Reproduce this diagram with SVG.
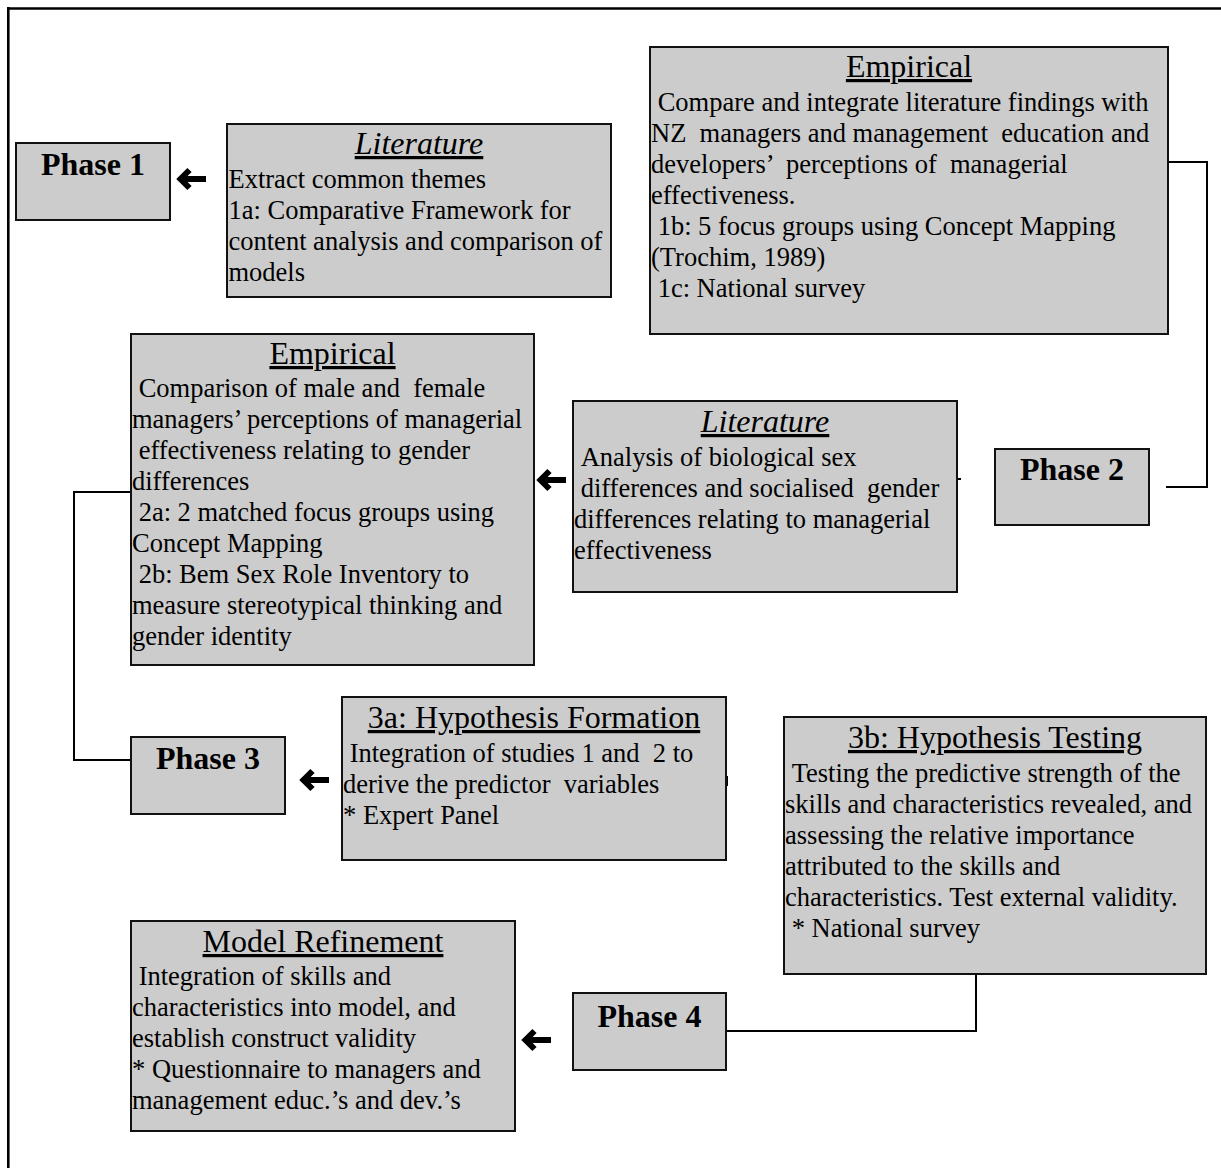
<svg xmlns="http://www.w3.org/2000/svg" width="1221" height="1168" viewBox="0 0 1221 1168">
<style>
.box{fill:#cccccc;stroke:#111;stroke-width:2}
.t{font-family:"Liberation Serif","Times New Roman",serif;font-size:26.5px;fill:#000;white-space:pre}
.ti{font-family:"Liberation Serif","Times New Roman",serif;font-size:32px;fill:#000;text-anchor:middle;text-decoration:underline}
.it{font-style:italic}
.ph{font-family:"Liberation Serif","Times New Roman",serif;font-size:32px;font-weight:bold;fill:#000;text-anchor:middle}
.ln{fill:none;stroke:#000;stroke-width:2}
.ar{fill:none;stroke:#000;stroke-width:6;stroke-linejoin:miter}
</style>
<defs>
<g id="arrow">
<path class="ar" d="M12.5,-9 L3.5,0 L12.5,9"/>
<path class="ar" d="M5,0 H29"/>
</g>
</defs>
<rect width="1221" height="1168" fill="#fff"/>
<path d="M7,8.5 H1221 M8.3,7 V1168" fill="none" stroke="#000" stroke-width="2.6"/>

<g id="connectors">
<path class="ln" d="M1168,162 H1207 V487 H1166"/>
<path class="ln" d="M131,492 H74 V760 H131"/>
<path class="ln" d="M976,974 V1031 H726"/>
<path class="ln" d="M957,479 H961" stroke-width="3"/>
<path class="ln" d="M727,776 V786"/>
<use href="#arrow" x="177" y="179"/>
<use href="#arrow" x="537" y="480"/>
<use href="#arrow" x="300" y="780"/>
<use href="#arrow" x="522" y="1040"/>
</g>

<g id="phase1">
<rect class="box" x="16" y="143" width="154" height="77"/>
<text class="ph" x="93" y="175">Phase 1</text>
</g>

<g id="literature1">
<rect class="box" x="227" y="124" width="384" height="173"/>
<text class="ti it" x="419" y="154">Literature</text>
<text class="t" x="228.5" y="188">Extract common themes</text>
<text class="t" x="228.5" y="219">1a: Comparative Framework for</text>
<text class="t" x="228.5" y="250">content analysis and comparison of</text>
<text class="t" x="228.5" y="281">models</text>
</g>

<g id="empirical1">
<rect class="box" x="650" y="47" width="518" height="287"/>
<text class="ti" x="909" y="77">Empirical</text>
<text class="t" x="651" y="111">&#160;Compare and integrate literature findings with</text>
<text class="t" x="651" y="142">NZ &#160;managers and management &#160;education and</text>
<text class="t" x="651" y="173">developers’ &#160;perceptions of &#160;managerial</text>
<text class="t" x="651" y="204">effectiveness.</text>
<text class="t" x="651" y="235">&#160;1b: 5 focus groups using Concept Mapping</text>
<text class="t" x="651" y="266">(Trochim, 1989)</text>
<text class="t" x="651" y="297">&#160;1c: National survey</text>
</g>

<g id="empirical2">
<rect class="box" x="131" y="334" width="403" height="331"/>
<text class="ti" x="332.5" y="364">Empirical</text>
<text class="t" x="132" y="397">&#160;Comparison of male and &#160;female</text>
<text class="t" x="132" y="428">managers’ perceptions of managerial</text>
<text class="t" x="132" y="459">&#160;effectiveness relating to gender</text>
<text class="t" x="132" y="490">differences</text>
<text class="t" x="132" y="521">&#160;2a: 2 matched focus groups using</text>
<text class="t" x="132" y="552">Concept Mapping</text>
<text class="t" x="132" y="583">&#160;2b: Bem Sex Role Inventory to</text>
<text class="t" x="132" y="614">measure stereotypical thinking and</text>
<text class="t" x="132" y="645">gender identity</text>
</g>

<g id="literature2">
<rect class="box" x="573" y="401" width="384" height="191"/>
<text class="ti it" x="765" y="432">Literature</text>
<text class="t" x="574" y="466">&#160;Analysis of biological sex</text>
<text class="t" x="574" y="497">&#160;differences and socialised &#160;gender</text>
<text class="t" x="574" y="528">differences relating to managerial</text>
<text class="t" x="574" y="559">effectiveness</text>
</g>

<g id="phase2">
<rect class="box" x="995" y="449" width="154" height="76"/>
<text class="ph" x="1072" y="480">Phase 2</text>
</g>

<g id="phase3">
<rect class="box" x="131" y="737" width="154" height="77"/>
<text class="ph" x="208" y="769">Phase 3</text>
</g>

<g id="hypothesis-formation">
<rect class="box" x="342" y="697" width="384" height="163"/>
<text class="ti" x="534" y="728">3a: Hypothesis Formation</text>
<text class="t" x="343" y="762">&#160;Integration of studies 1 and &#160;2 to</text>
<text class="t" x="343" y="793">derive the predictor &#160;variables</text>
<text class="t" x="343" y="824">* Expert Panel</text>
</g>

<g id="hypothesis-testing">
<rect class="box" x="784" y="717" width="422" height="257"/>
<text class="ti" x="995" y="748">3b: Hypothesis Testing</text>
<text class="t" x="785" y="782">&#160;Testing the predictive strength of the</text>
<text class="t" x="785" y="813">skills and characteristics revealed, and</text>
<text class="t" x="785" y="844">assessing the relative importance</text>
<text class="t" x="785" y="875">attributed to the skills and</text>
<text class="t" x="785" y="906">characteristics. Test external validity.</text>
<text class="t" x="785" y="937">&#160;* National survey</text>
</g>

<g id="model-refinement">
<rect class="box" x="131" y="921" width="384" height="210"/>
<text class="ti" x="323" y="952">Model Refinement</text>
<text class="t" x="132" y="985">&#160;Integration of skills and</text>
<text class="t" x="132" y="1016">characteristics into model, and</text>
<text class="t" x="132" y="1047">establish construct validity</text>
<text class="t" x="132" y="1078">* Questionnaire to managers and</text>
<text class="t" x="132" y="1109">management educ.’s and dev.’s</text>
</g>

<g id="phase4">
<rect class="box" x="573" y="993" width="153" height="77"/>
<text class="ph" x="649.5" y="1027">Phase 4</text>
</g>
</svg>
